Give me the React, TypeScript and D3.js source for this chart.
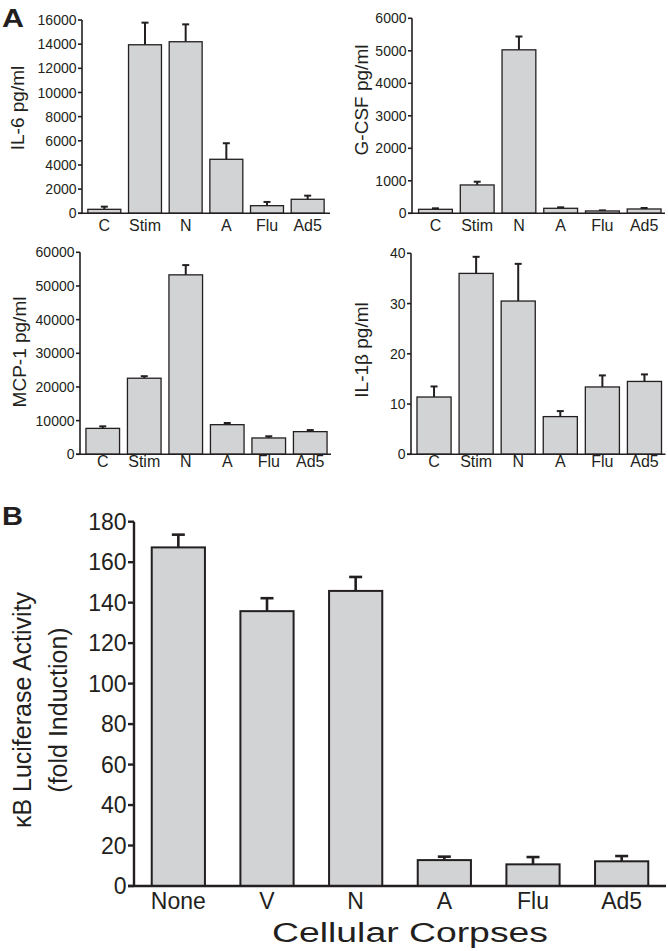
import React from "react";
import * as d3 from "d3";

const categoriesA = ["C", "Stim", "N", "A", "Flu", "Ad5"];
const il6Values = [330, 13950, 14200, 4470, 630, 1160];
const il6Errors = [220, 1830, 1440, 1330, 310, 300];
const gcsfValues = [123, 872, 5030, 154, 72, 133];
const gcsfErrors = [30, 100, 410, 30, 18, 30];
const mcp1Values = [7700, 22600, 53300, 8800, 4850, 6730];
const mcp1Errors = [600, 600, 2900, 500, 500, 470];
const il1bValues = [11.4, 36.0, 30.5, 7.5, 13.4, 14.5];
const il1bErrors = [2.1, 3.3, 7.4, 1.1, 2.3, 1.4];

const il6Ticks = [0, 2000, 4000, 6000, 8000, 10000, 12000, 14000, 16000];
const gcsfTicks = [0, 1000, 2000, 3000, 4000, 5000, 6000];
const mcp1Ticks = [0, 10000, 20000, 30000, 40000, 50000, 60000];
const il1bTicks = [0, 10, 20, 30, 40];

const categoriesB = ["None", "V", "N", "A", "Flu", "Ad5"];
const luciferaseValues = [167.3, 135.8, 145.8, 12.8, 10.7, 12.2];
const luciferaseErrors = [6.3, 6.4, 6.9, 1.7, 3.6, 2.6];
const luciferaseTicks = [0, 20, 40, 60, 80, 100, 120, 140, 160, 180];

const FONT = "'Liberation Sans', Arial, Helvetica, sans-serif";
const INK = "#231f20";
const FILL = "#d2d3d5";

type PanelProps = {
  cats: string[];
  values: number[];
  errors: number[];
  ticks: number[];
  title: React.ReactNode;
  axisX: number;
  yTop: number;
  yBottom: number;
  xRange: [number, number];
  baseEnd: number;
  titleX: number;
  titleY: number;
  labelBaseline: number;
  tickFont: number;
  catFont: number;
  titleFont: number;
  tickLen: number;
  axisW: number;
  barW: number;
  errW: number;
  capW: number;
  pad: number;
  title2?: React.ReactNode;
  title2X?: number;
};

function Panel(p: PanelProps) {
  const max = p.ticks[p.ticks.length - 1];
  const y = d3.scaleLinear().domain([0, max]).range([p.yBottom, p.yTop]);
  const x = d3
    .scaleBand<string>()
    .domain(p.cats)
    .range(p.xRange)
    .paddingInner(p.pad)
    .paddingOuter(p.pad / 2);
  const bw = x.bandwidth();
  return (
    <g>
      {p.cats.map((c, i) => {
        const x0 = x(c) as number;
        const cx = x0 + bw / 2;
        const top = y(p.values[i]);
        const et = y(p.values[i] + p.errors[i]);
        return (
          <g key={c}>
            <line x1={cx} x2={cx} y1={top} y2={et} stroke={INK} strokeWidth={p.errW} />
            <line x1={cx - p.capW / 2} x2={cx + p.capW / 2} y1={et} y2={et} stroke={INK} strokeWidth={p.errW} />
            <rect x={x0} y={top} width={bw} height={p.yBottom - top} fill={FILL} stroke={INK} strokeWidth={p.barW} />
          </g>
        );
      })}
      <line x1={p.axisX} x2={p.axisX} y1={p.yTop} y2={p.yBottom} stroke={INK} strokeWidth={p.axisW} />
      <line x1={p.axisX - p.tickLen} x2={p.baseEnd} y1={p.yBottom} y2={p.yBottom} stroke={INK} strokeWidth={p.axisW} />
      {p.ticks.map((t) => (
        <g key={t}>
          <line x1={p.axisX - p.tickLen} x2={p.axisX} y1={y(t)} y2={y(t)} stroke={INK} strokeWidth={p.axisW} />
          <text
            x={p.axisX - p.tickLen - 1.5}
            y={y(t)}
            dy="0.36em"
            textAnchor="end"
            fontSize={p.tickFont}
            fontFamily={FONT}
            fill={INK}
          >
            {t}
          </text>
        </g>
      ))}
      {p.cats.map((c) => (
        <text
          key={"l" + c}
          x={(x(c) as number) + bw / 2}
          y={p.labelBaseline}
          textAnchor="middle"
          fontSize={p.catFont}
          fontFamily={FONT}
          fill={INK}
        >
          {c}
        </text>
      ))}
      <text
        transform={`translate(${p.titleX},${p.titleY}) rotate(-90)`}
        textAnchor="middle"
        fontSize={p.titleFont}
        fontFamily={FONT}
        fill={INK}
      >
        {p.title}
      </text>
      {p.title2 ? (
        <text
          transform={`translate(${p.title2X},${p.titleY}) rotate(-90)`}
          textAnchor="middle"
          fontSize={p.titleFont}
          fontFamily={FONT}
          fill={INK}
        >
          {p.title2}
        </text>
      ) : null}
    </g>
  );
}

const smallStyle = {
  tickFont: 14,
  catFont: 16,
  titleFont: 19,
  tickLen: 4,
  axisW: 1.6,
  barW: 1.3,
  errW: 2,
  capW: 7,
  pad: 0.19,
};

export default function App() {
  return (
    <svg
      width={668}
      height={951}
      viewBox="0 0 668 951"
      style={{ position: "absolute", left: 0, top: 0, background: "#fff" }}
    >
      <rect x={0} y={0} width={668} height={951} fill="#fff" />
      <text x={2} y={27} fontSize={25} fontWeight="bold" fontFamily={FONT} fill={INK} textLength={22} lengthAdjust="spacingAndGlyphs">
        A
      </text>
      <Panel
        {...smallStyle}
        cats={categoriesA}
        values={il6Values}
        errors={il6Errors}
        ticks={il6Ticks}
        title="IL-6 pg/ml"
        axisX={82}
        yTop={20}
        yBottom={213.3}
        xRange={[84, 328]}
        baseEnd={330}
        titleX={24}
        titleY={108}
        labelBaseline={231}
      />
      <Panel
        {...smallStyle}
        cats={categoriesA}
        values={gcsfValues}
        errors={gcsfErrors}
        ticks={gcsfTicks}
        title="G-CSF pg/ml"
        axisX={412}
        yTop={18.3}
        yBottom={213.3}
        xRange={[414.6, 665]}
        baseEnd={665}
        titleX={368}
        titleY={100}
        labelBaseline={231}
      />
      <Panel
        {...smallStyle}
        cats={categoriesA}
        values={mcp1Values}
        errors={mcp1Errors}
        ticks={mcp1Ticks}
        title="MCP-1 pg/ml"
        axisX={80}
        yTop={252.3}
        yBottom={454.3}
        xRange={[82, 331]}
        baseEnd={331}
        titleX={26}
        titleY={352}
        labelBaseline={467}
      />
      <Panel
        {...smallStyle}
        cats={categoriesA}
        values={il1bValues}
        errors={il1bErrors}
        ticks={il1bTicks}
        title="IL-1β pg/ml"
        axisX={411}
        yTop={253.3}
        yBottom={454.3}
        xRange={[413, 665.5]}
        baseEnd={665.5}
        titleX={368}
        titleY={350}
        labelBaseline={467}
      />
      <text x={2} y={525} fontSize={25} fontWeight="bold" fontFamily={FONT} fill={INK} textLength={21} lengthAdjust="spacingAndGlyphs">
        B
      </text>
      <Panel
        cats={categoriesB}
        values={luciferaseValues}
        errors={luciferaseErrors}
        ticks={luciferaseTicks}
        title="κB Luciferase Activity"
        title2="(fold Induction)"
        title2X={67}
        axisX={134}
        yTop={521.7}
        yBottom={886}
        xRange={[134, 666]}
        baseEnd={666}
        titleX={31}
        titleY={710}
        labelBaseline={909}
        tickFont={23}
        catFont={23}
        titleFont={25}
        tickLen={6}
        axisW={2.4}
        barW={2}
        errW={2.6}
        capW={13}
        pad={0.4}
      />
      <text x={272} y={942} fontSize={27} fontFamily={FONT} fill={INK} textLength={276} lengthAdjust="spacingAndGlyphs">
        Cellular Corpses
      </text>
    </svg>
  );
}
